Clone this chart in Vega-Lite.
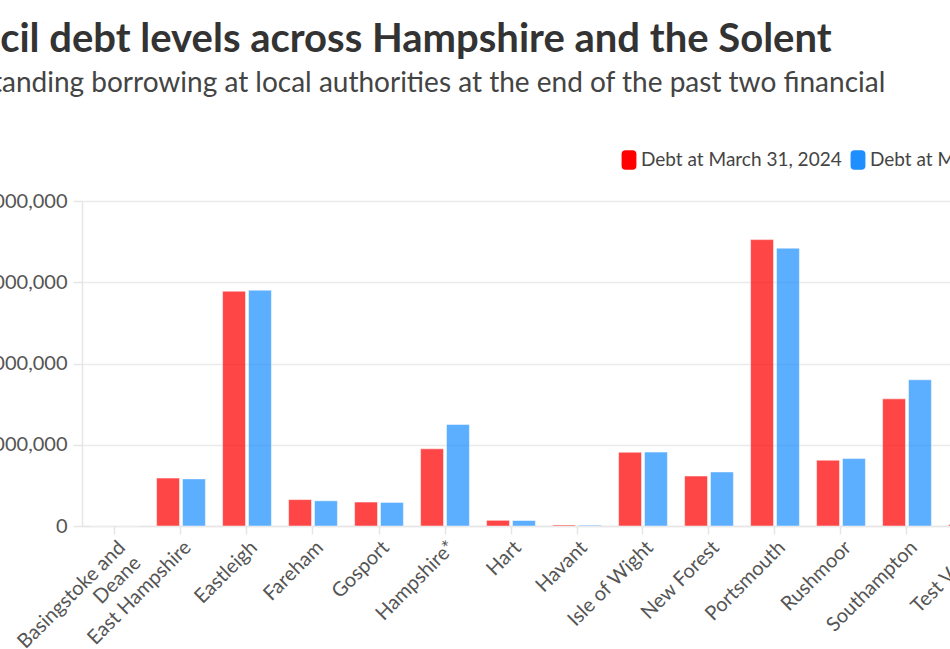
{
  "$schema": "https://vega.github.io/schema/vega-lite/v6.json",
  "width": 868,
  "height": 325,
  "autosize": {"type": "none"},
  "padding": {"left": 82, "top": 201, "right": 0, "bottom": 123},
  "background": "white",
  "title": {
    "text": "Council debt levels across Hampshire and the Solent",
    "subtitle": ["Outstanding borrowing at local authorities at the end of the past two financial", "years"],
    "anchor": "start",
    "frame": "group",
    "font": "Lato",
    "fontSize": 40,
    "fontWeight": "bold",
    "color": "#333333",
    "subtitleFont": "Lato",
    "subtitleFontSize": 28,
    "subtitleLineHeight": 34,
    "subtitleColor": "#444444",
    "subtitlePadding": 10,
    "limit": 3000,
    "dx": -150,
    "offset": 18,
    "encoding": {"dx": {"value": -176}}
  },
  "data": {
    "values": [
      {"council": "Basingstoke and Deane", "series": "Debt at March 31, 2024", "value": 0},
      {"council": "Basingstoke and Deane", "series": "Debt at March 31, 2025", "value": 0},
      {"council": "East Hampshire", "series": "Debt at March 31, 2024", "value": 118000000},
      {"council": "East Hampshire", "series": "Debt at March 31, 2025", "value": 116000000},
      {"council": "Eastleigh", "series": "Debt at March 31, 2024", "value": 578000000},
      {"council": "Eastleigh", "series": "Debt at March 31, 2025", "value": 580500000},
      {"council": "Fareham", "series": "Debt at March 31, 2024", "value": 65000000},
      {"council": "Fareham", "series": "Debt at March 31, 2025", "value": 62000000},
      {"council": "Gosport", "series": "Debt at March 31, 2024", "value": 59000000},
      {"council": "Gosport", "series": "Debt at March 31, 2025", "value": 58000000},
      {"council": "Hampshire*", "series": "Debt at March 31, 2024", "value": 190000000},
      {"council": "Hampshire*", "series": "Debt at March 31, 2025", "value": 250000000},
      {"council": "Hart", "series": "Debt at March 31, 2024", "value": 14000000},
      {"council": "Hart", "series": "Debt at March 31, 2025", "value": 13500000},
      {"council": "Havant", "series": "Debt at March 31, 2024", "value": 2500000},
      {"council": "Havant", "series": "Debt at March 31, 2025", "value": 2000000},
      {"council": "Isle of Wight", "series": "Debt at March 31, 2024", "value": 181500000},
      {"council": "Isle of Wight", "series": "Debt at March 31, 2025", "value": 182000000},
      {"council": "New Forest", "series": "Debt at March 31, 2024", "value": 123000000},
      {"council": "New Forest", "series": "Debt at March 31, 2025", "value": 133000000},
      {"council": "Portsmouth", "series": "Debt at March 31, 2024", "value": 705000000},
      {"council": "Portsmouth", "series": "Debt at March 31, 2025", "value": 684000000},
      {"council": "Rushmoor", "series": "Debt at March 31, 2024", "value": 162000000},
      {"council": "Rushmoor", "series": "Debt at March 31, 2025", "value": 166000000},
      {"council": "Southampton", "series": "Debt at March 31, 2024", "value": 313000000},
      {"council": "Southampton", "series": "Debt at March 31, 2025", "value": 360000000},
      {"council": "Test Valley", "series": "Debt at March 31, 2024", "value": 4000000},
      {"council": "Test Valley", "series": "Debt at March 31, 2025", "value": 4000000}
    ]
  },
  "mark": {"type": "bar", "opacity": 0.72, "stroke": "white", "strokeWidth": 1, "strokeOpacity": 0.5},
  "encoding": {
    "x": {
      "field": "council",
      "type": "nominal",
      "sort": null,
      "scale": {"range": [0, 924], "paddingInner": 0.26, "paddingOuter": 0.13},
      "axis": {
        "title": null,
        "labelAngle": -45,
        "labelFont": "Lato",
        "labelFontSize": 20,
        "labelColor": "#555555",
        "labelPadding": 3,
        "labelLimit": 400,
        "labelExpr": "datum.label == 'Basingstoke and Deane' ? ['Basingstoke and', 'Deane'] : datum.label",
        "domainColor": "#e6e6e6",
        "domainWidth": 1.5,
        "tickColor": "#e6e6e6",
        "tickWidth": 1.5,
        "tickSize": 8,
        "grid": false
      }
    },
    "xOffset": {
      "field": "series",
      "type": "nominal",
      "scale": {"paddingInner": 0.115, "paddingOuter": 0}
    },
    "y": {
      "field": "value",
      "type": "quantitative",
      "scale": {"domain": [0, 800000000], "nice": false},
      "axis": {
        "title": null,
        "values": [0, 200000000, 400000000, 600000000, 800000000],
        "format": ",.0f",
        "labelFont": "Lato",
        "labelFontSize": 20,
        "labelColor": "#555555",
        "labelPadding": 6,
        "domainColor": "#e6e6e6",
        "domainWidth": 1.5,
        "tickColor": "#e6e6e6",
        "tickWidth": 1.5,
        "tickSize": 9,
        "gridColor": "#ebebeb",
        "gridWidth": 1.5
      }
    },
    "color": {
      "field": "series",
      "type": "nominal",
      "scale": {"domain": ["Debt at March 31, 2024", "Debt at March 31, 2025"], "range": ["#FF0000", "#1E8FFF"]},
      "legend": {
        "title": null,
        "orient": "none",
        "legendX": 537,
        "legendY": -51,
        "direction": "horizontal",
        "symbolType": "M-0.76,-0.6Q-0.76,-1,-0.36,-1L0.36,-1Q0.76,-1,0.76,-0.6L0.76,0.6Q0.76,1,0.36,1L-0.36,1Q-0.76,1,-0.76,0.6Z",
        "symbolSize": 380,
        "symbolOpacity": 1,
        "symbolStrokeWidth": 0,
        "labelFont": "Lato",
        "labelFontSize": 19,
        "labelColor": "#444444",
        "labelOffset": 2,
        "labelLimit": 400,
        "columnPadding": 6
      }
    }
  },
  "config": {"view": {"stroke": null}}
}
